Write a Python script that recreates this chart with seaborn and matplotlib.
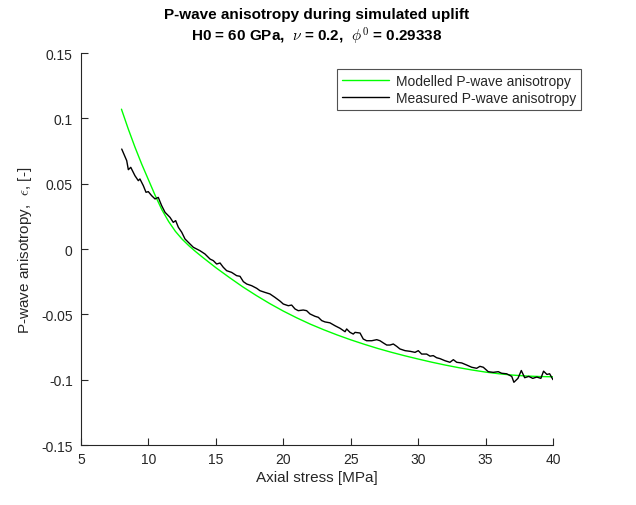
import numpy as np
import pandas as pd
import matplotlib
matplotlib.use('Agg')
import matplotlib.pyplot as plt
import seaborn as sns

# modelled P-wave anisotropy (smooth curve)
model_stress = [8.0, 8.5, 9.0, 9.5, 10.0, 10.5, 11.0, 11.5, 12.0, 12.5, 13.0, 13.5, 14.0,
                15, 16, 17, 18, 19, 20, 21, 22, 23, 24, 25, 26, 27, 28, 29, 30,
                31, 32, 33, 34, 35, 36, 37, 38, 39, 40]
model_aniso = [0.107, 0.092, 0.078, 0.065, 0.053, 0.041, 0.030, 0.021, 0.0135, 0.0075, 0.0025, -0.0020, -0.0062,
               -0.0143, -0.0218, -0.0290, -0.0356, -0.0418, -0.0475, -0.0527, -0.0575, -0.0618, -0.0658, -0.0695,
               -0.0729, -0.0761, -0.0790, -0.0817, -0.0842, -0.0866, -0.0888, -0.0908, -0.0926, -0.0942,
               -0.0955, -0.0965, -0.0972, -0.0976, -0.0978]

# measured P-wave anisotropy (noisy lab curve)
meas_stress = [8.02, 8.39, 8.51, 8.69, 9.00, 9.25, 9.37, 9.62, 9.82, 9.99, 10.24, 10.49, 10.73, 10.98,
               11.23, 11.60, 11.84, 12.02, 12.22, 12.47, 12.71, 12.96, 13.33, 13.82, 14.19, 14.57, 14.81,
               15.06, 15.31, 15.55, 15.80, 16.17, 16.54, 16.79, 17.04, 17.29, 17.66, 18.03, 18.27, 18.64,
               19.01, 19.38, 19.76, 20.00, 20.37, 20.62, 20.87, 21.11, 21.48, 21.73, 21.98, 22.35, 22.60,
               22.85, 23.09, 23.46, 23.83, 24.21, 24.58, 24.70, 24.95, 25.19, 25.32, 25.69, 25.93, 26.18,
               26.56, 26.93, 27.17, 27.42, 27.67, 27.91, 28.16, 28.41, 28.65, 29.03, 29.40, 29.77, 30.01,
               30.26, 30.63, 30.88, 31.12, 31.37, 31.62, 31.99, 32.36, 32.61, 32.86, 33.23, 33.60, 33.97,
               34.34, 34.58, 34.83, 35.20, 35.57, 35.94, 36.19, 36.56, 36.94, 37.10, 37.40, 37.65, 37.90,
               38.20, 38.50, 38.80, 39.10, 39.30, 39.55, 39.75, 40.00]
meas_aniso = [0.0765, 0.0676, 0.0607, 0.0625, 0.0561, 0.0523, 0.0536, 0.0485, 0.0434, 0.0439, 0.0408,
              0.0383, 0.0395, 0.0332, 0.0281, 0.0242, 0.0204, 0.0217, 0.0166, 0.0128, 0.0077, 0.0051,
              0.0013, -0.0013, -0.0038, -0.0077, -0.0089, -0.0115, -0.0107, -0.0140, -0.0166, -0.0179,
              -0.0204, -0.0209, -0.0250, -0.0268, -0.0281, -0.0301, -0.0319, -0.0332, -0.0344, -0.0370,
              -0.0399, -0.0421, -0.0434, -0.0429, -0.0459, -0.0472, -0.0467, -0.0472, -0.0497, -0.0515,
              -0.0523, -0.0548, -0.0558, -0.0565, -0.0587, -0.0607, -0.0633, -0.0612, -0.0638, -0.0651,
              -0.0638, -0.0643, -0.0689, -0.0702, -0.0702, -0.0694, -0.0702, -0.0719, -0.0735, -0.0735,
              -0.0727, -0.0745, -0.0765, -0.0778, -0.0783, -0.0791, -0.0778, -0.0804, -0.0804, -0.0820,
              -0.0816, -0.0832, -0.0839, -0.0855, -0.0867, -0.0847, -0.0867, -0.0872, -0.0888, -0.0905,
              -0.0913, -0.0898, -0.0905, -0.0939, -0.0944, -0.0939, -0.0951, -0.0955, -0.0975, -0.1020,
              -0.0990, -0.0930, -0.0985, -0.0975, -0.0990, -0.0980, -0.0990, -0.0935, -0.0960, -0.0955,
              -0.1000]

xtick_vals = [5, 10, 15, 20, 25, 30, 35, 40]
ytick_vals = [-0.15, -0.1, -0.05, 0, 0.05, 0.1, 0.15]
ytick_labels = ['-0.15', '-0.1', '-0.05', '0', '0.05', '0.1', '0.15']

sns.set_theme(style='white')
plt.rcParams['font.family'] = ['Liberation Sans', 'DejaVu Sans']
plt.rcParams['mathtext.fontset'] = 'cm'
plt.rcParams['axes.unicode_minus'] = False

axcol = '#262626'

fig = plt.figure(figsize=(6.36, 5.06), dpi=100)
ax = fig.add_axes([81/636, 1-446/506, (553-81)/636, (446-54)/506])

df_model = pd.DataFrame({'stress': model_stress, 'aniso': model_aniso})
df_meas = pd.DataFrame({'stress': meas_stress, 'aniso': meas_aniso})

sns.lineplot(data=df_model, x='stress', y='aniso', color='#00ff00', lw=1.0,
             label='Modelled P-wave anisotropy', ax=ax, sort=False)
sns.lineplot(data=df_meas, x='stress', y='aniso', color='black', lw=1.0,
             label='Measured P-wave anisotropy', ax=ax, sort=False)

ax.set_xlim(5, 40)
ax.set_ylim(-0.15, 0.15)
ax.set_xticks(xtick_vals)
ax.set_yticks(ytick_vals)
ax.set_yticklabels(ytick_labels)
ax.tick_params(direction='in', length=5, width=0.8, colors=axcol, labelsize=10,
               bottom=True, left=True, top=False, right=False)
ax.tick_params(axis='y', pad=6)
ax.tick_params(axis='x', pad=5)
for s in ['top', 'right']:
    ax.spines[s].set_visible(False)
for s in ['left', 'bottom']:
    ax.spines[s].set_color(axcol)
    ax.spines[s].set_linewidth(0.8)

ax.set_xlabel('Axial stress [MPa]', fontsize=11, color=axcol, labelpad=3)
ax.set_ylabel(r'P-wave anisotropy,  $\epsilon$, [-]', fontsize=11, color=axcol, labelpad=5)
ax.set_title('P-wave anisotropy during simulated uplift\n'
             r'H0 = 60 GPa,  $\nu$ = 0.2,  $\phi^{\mathbf{0}}$ = 0.29338',
             fontsize=11, fontweight='bold', color='black', pad=9, linespacing=1.25)

leg = ax.legend(loc='upper right', bbox_to_anchor=(581/636, 1-70/506),
                bbox_transform=fig.transFigure, fontsize=10, frameon=True,
                fancybox=False, edgecolor=axcol, handlelength=3.4,
                borderpad=0.35, labelspacing=0.25, handletextpad=0.5, borderaxespad=0)
leg.get_frame().set_linewidth(0.8)

fig.savefig('out.png', dpi=100)
